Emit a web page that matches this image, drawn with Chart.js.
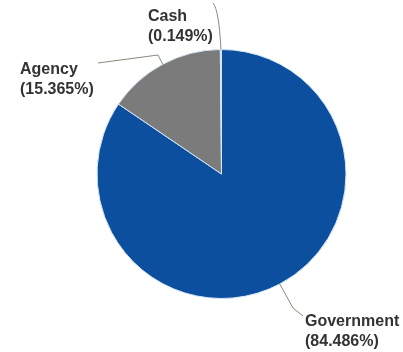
<!DOCTYPE html>
<html><head><meta charset="utf-8">
<script src="https://cdn.jsdelivr.net/npm/chart.js@4"></script>
<style>html,body{margin:0;padding:0;background:#fff}#wrap{width:403px;height:352px}</style>
</head><body><div id="wrap"><canvas id="c" width="403" height="352"></canvas></div>
<script>
const categories = ["Government", "Agency", "Cash"];
const shares = [84.486, 15.365, 0.149];
const shareLabels = ["(84.486%)", "(15.365%)", "(0.149%)"];
const colors = ["#0b4f9e", "#7b7b7b", "#a9cdee"];

// label placement (style): text anchor, leader-line waypoints after the arc anchor
const labelLayout = [
  {x: 305, y: 322, pts: [[293, 308], [303, 316]], curve: false},
  {x: 20, y: 70, pts: [[158, 55], [98, 63]], curve: false},
  {x: 148, y: 17, pts: [[219, 10], [213, 3]], curve: true}
];

const labelPlugin = {
  id: "pieLabels",
  afterDatasetsDraw(chart) {
    const ctx = chart.ctx;
    const meta = chart.getDatasetMeta(0);
    ctx.save();
    meta.data.forEach((arc, i) => {
      const L = labelLayout[i];
      const ang = (arc.startAngle + arc.endAngle) / 2;
      const ax = arc.x + Math.cos(ang) * arc.outerRadius;
      const ay = arc.y + Math.sin(ang) * arc.outerRadius;
      ctx.strokeStyle = "#8a8a7a";
      ctx.lineWidth = 1;
      ctx.beginPath();
      ctx.moveTo(ax, ay);
      if (L.curve) {
        ctx.quadraticCurveTo(L.pts[0][0], L.pts[0][1], L.pts[1][0], L.pts[1][1]);
      } else {
        L.pts.forEach(p => ctx.lineTo(p[0], p[1]));
      }
      ctx.stroke();
      ctx.fillStyle = "#333333";
      ctx.font = "bold 16px 'Liberation Sans', Arial, sans-serif";
      ctx.textAlign = "left";
      ctx.textBaseline = "middle";
      ctx.fillText(categories[i], L.x, L.y);
      ctx.fillText(shareLabels[i], L.x, L.y + 20);
    });
    ctx.restore();
  }
};

new Chart(document.getElementById("c"), {
  type: "pie",
  data: {
    labels: categories,
    datasets: [{
      data: shares,
      backgroundColor: colors,
      borderColor: "#d6e8f8",
      borderWidth: 1
    }]
  },
  options: {
    responsive: false,
    animation: false,
    layout: {padding: {left: 96, right: 56, top: 49, bottom: 53}},
    plugins: {legend: {display: false}, tooltip: {enabled: false}}
  },
  plugins: [labelPlugin]
});
</script>
</body></html>
